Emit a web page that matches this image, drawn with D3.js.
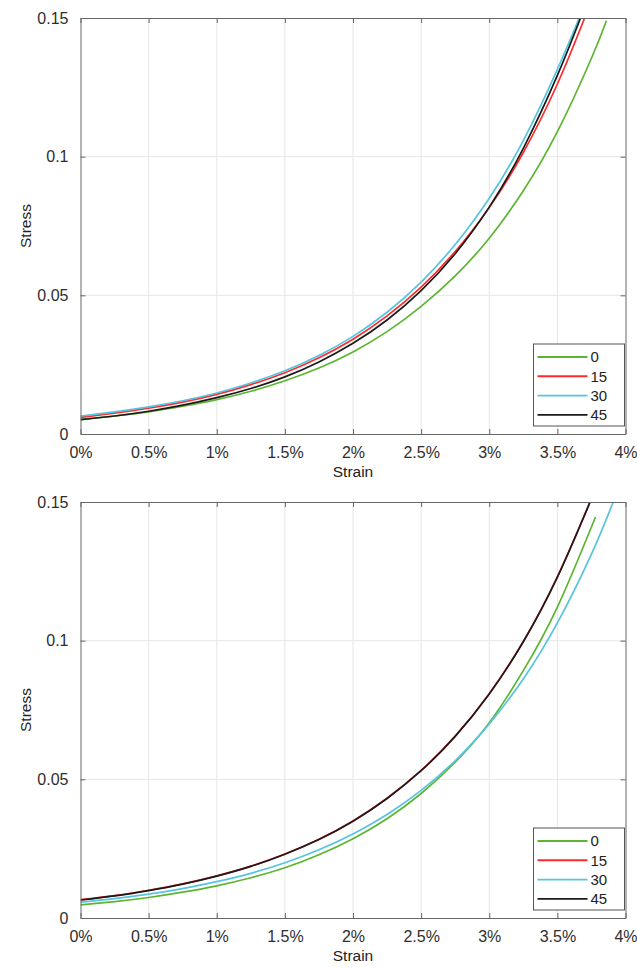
<!DOCTYPE html>
<html>
<head>
<meta charset="utf-8">
<script src="https://cdn.jsdelivr.net/npm/d3@7/dist/d3.min.js"></script>
<style>
body { margin: 0; background: #fff; }
svg { display: block; font-family: "Liberation Sans", Arial, sans-serif; }
</style>
</head>
<body>
<div id="chartArea"></div>
<script>
// Values (strain in %, stress in the plot's units)
const strainTicks = [0, 0.5, 1, 1.5, 2, 2.5, 3, 3.5, 4];
const stressTicks = [0, 0.05, 0.1, 0.15];
const seriesNames = ['0', '15', '30', '45'];

// upper panel
const topStrain0 = [0, 0.25, 0.5, 0.75, 1, 1.25, 1.5, 1.75, 2, 2.25, 2.5, 2.75, 3, 3.25, 3.5, 3.75, 3.86];
const topStress0 = [0.0052, 0.0065, 0.0080, 0.0100, 0.0124, 0.0154, 0.0192, 0.0238, 0.0296, 0.0369, 0.0460, 0.0570, 0.0706, 0.0877, 0.1090, 0.1355, 0.1490];
const topStrain15 = [0, 0.25, 0.5, 0.75, 1, 1.25, 1.5, 1.75, 2, 2.25, 2.5, 2.75, 3, 3.25, 3.5, 3.70];
const topStress15 = [0.0060, 0.0075, 0.0093, 0.0115, 0.0143, 0.0178, 0.0221, 0.0275, 0.0342, 0.0426, 0.0530, 0.0658, 0.0817, 0.1015, 0.1262, 0.1500];
const topStrain30 = [0, 0.25, 0.5, 0.75, 1, 1.25, 1.5, 1.75, 2, 2.25, 2.5, 2.75, 3, 3.25, 3.5, 3.66];
const topStress30 = [0.0065, 0.0080, 0.0098, 0.0120, 0.0148, 0.0184, 0.0228, 0.0283, 0.0352, 0.0439, 0.0548, 0.0683, 0.0850, 0.1058, 0.1315, 0.1500];
const topStrain45 = [0, 0.25, 0.5, 0.75, 1, 1.25, 1.5, 1.75, 2, 2.25, 2.5, 2.75, 3, 3.25, 3.5, 3.67];
const topStress45 = [0.0052, 0.0065, 0.0082, 0.0104, 0.0131, 0.0164, 0.0206, 0.0260, 0.0327, 0.0411, 0.0517, 0.0650, 0.0818, 0.1030, 0.1293, 0.1500];

// lower panel
const botStrain0 = [0, 0.25, 0.5, 0.75, 1, 1.25, 1.5, 1.75, 2, 2.25, 2.5, 2.75, 3, 3.25, 3.5, 3.78];
const botStress0 = [0.0047, 0.0059, 0.0074, 0.0093, 0.0116, 0.0145, 0.0181, 0.0228, 0.0286, 0.0358, 0.0449, 0.0562, 0.0704, 0.0892, 0.1121, 0.1446];
const botStrain15 = [0, 0.25, 0.5, 0.75, 1, 1.25, 1.5, 1.75, 2, 2.25, 2.5, 2.75, 3, 3.25, 3.5, 3.74];
const botStress15 = [0.0066, 0.0081, 0.0100, 0.0123, 0.0152, 0.0187, 0.0231, 0.0284, 0.0350, 0.0432, 0.0532, 0.0656, 0.0809, 0.0997, 0.1230, 0.1500];
const botStrain30 = [0, 0.25, 0.5, 0.75, 1, 1.25, 1.5, 1.75, 2, 2.25, 2.5, 2.75, 3, 3.25, 3.5, 3.75, 3.91];
const botStress30 = [0.0057, 0.0070, 0.0086, 0.0106, 0.0131, 0.0161, 0.0199, 0.0246, 0.0303, 0.0373, 0.0460, 0.0567, 0.0700, 0.0862, 0.1064, 0.1312, 0.1500];
const botStrain45 = [0, 0.25, 0.5, 0.75, 1, 1.25, 1.5, 1.75, 2, 2.25, 2.5, 2.75, 3, 3.25, 3.5, 3.74];
const botStress45 = [0.0065, 0.0080, 0.0099, 0.0122, 0.0151, 0.0186, 0.0230, 0.0283, 0.0349, 0.0431, 0.0531, 0.0655, 0.0808, 0.0996, 0.1229, 0.1500];

const colors = ['#5cb530', '#ff2b2b', '#55c4e0', '#1a1a1a'];

function toPoints(xs, ys) {
    return xs.map((x, i) => ({ strain: x, stress: ys[i] }));
}

const panels = [
    {
        id: 'top', top: 18,
        series: [toPoints(topStrain0, topStress0), toPoints(topStrain15, topStress15),
                 toPoints(topStrain30, topStress30), toPoints(topStrain45, topStress45)]
    },
    {
        id: 'bot', top: 502,
        series: [toPoints(botStrain0, botStress0), toPoints(botStrain15, botStress15),
                 toPoints(botStrain30, botStress30), toPoints(botStrain45, botStress45)]
    }
];

let svg = d3.select('#chartArea')
    .append('svg')
    .attr('width', 637)
    .attr('height', 969);

let left = 80.5,
    width = 545,
    height = 416;

function drawPanel(panel) {
    let chart = svg.append('g')
        .attr('transform', 'translate(' + left + ',' + panel.top + ')');

    let xScale = d3.scaleLinear().domain([0, 4]).range([0, width]);
    let yScale = d3.scaleLinear().domain([0, 0.15]).range([height, 0]);

    // grid
    chart.append('g')
        .selectAll('line')
        .data(strainTicks.slice(1, -1))
        .enter().append('line')
        .attr('x1', d => xScale(d)).attr('x2', d => xScale(d))
        .attr('y1', 0).attr('y2', height)
        .attr('stroke', '#e6e6e6');
    chart.append('g')
        .selectAll('line')
        .data(stressTicks.slice(1, -1))
        .enter().append('line')
        .attr('x1', 0).attr('x2', width)
        .attr('y1', d => yScale(d)).attr('y2', d => yScale(d))
        .attr('stroke', '#e6e6e6');

    let clipId = 'clip-' + panel.id;
    chart.append('clipPath').attr('id', clipId)
        .append('rect').attr('width', width).attr('height', height);

    let line = d3.line()
        .x(d => xScale(d.strain))
        .y(d => yScale(d.stress))
        .curve(d3.curveNatural);

    chart.append('g')
        .attr('clip-path', 'url(#' + clipId + ')')
        .selectAll('path')
        .data(panel.series)
        .enter().append('path')
        .attr('d', d => line(d))
        .attr('fill', 'none')
        .attr('stroke', (d, i) => colors[i])
        .attr('stroke-width', 1.7);

    // axes with inward ticks, boxed like MATLAB
    let fmtX = d => d + '%';
    let fmtY = d => d3.format('~g')(d);

    chart.append('g')
        .attr('transform', 'translate(0,' + height + ')')
        .call(d3.axisBottom(xScale).tickValues(strainTicks).tickFormat(fmtX)
            .tickSizeInner(-5).tickSizeOuter(0).tickPadding(13));
    chart.append('g')
        .call(d3.axisLeft(yScale).tickValues(stressTicks).tickFormat(fmtY)
            .tickSizeInner(-5).tickSizeOuter(0).tickPadding(12));
    chart.append('g')
        .call(d3.axisTop(xScale).tickValues(strainTicks).tickFormat('')
            .tickSizeInner(-5).tickSizeOuter(0));
    chart.append('g')
        .attr('transform', 'translate(' + width + ',0)')
        .call(d3.axisRight(yScale).tickValues(stressTicks).tickFormat('')
            .tickSizeInner(-5).tickSizeOuter(0));

    chart.selectAll('.domain').attr('stroke', '#666');
    chart.selectAll('.tick line').attr('stroke', '#666');
    chart.selectAll('.tick text')
        .attr('fill', '#2e2e2e')
        .style('font-size', '16px');

    // axis titles
    chart.append('text')
        .attr('x', width / 2)
        .attr('y', height + 43)
        .attr('text-anchor', 'middle')
        .attr('fill', '#222')
        .style('font-size', '15.5px')
        .text('Strain');

    chart.append('text')
        .attr('transform', 'translate(' + (31 - left) + ',' + (height / 2) + ') rotate(-90)')
        .attr('text-anchor', 'middle')
        .attr('fill', '#222')
        .style('font-size', '15.5px')
        .text('Stress');

    // legend
    let lgW = 91, lgH = 82;
    let legend = chart.append('g')
        .attr('transform', 'translate(' + (width - 1 - lgW) + ',' + (height - 8 - lgH) + ')');
    legend.append('rect')
        .attr('width', lgW).attr('height', lgH)
        .attr('fill', '#fff').attr('stroke', '#555');
    let rows = legend.selectAll('g')
        .data(seriesNames)
        .enter().append('g')
        .attr('transform', (d, i) => 'translate(0,' + (13 + i * 19.3) + ')');
    rows.append('line')
        .attr('x1', 4).attr('x2', 54)
        .attr('stroke', (d, i) => colors[i])
        .attr('stroke-width', 1.9);
    rows.append('text')
        .attr('x', 57)
        .attr('dy', '0.35em')
        .attr('fill', '#222')
        .style('font-size', '15px')
        .text(d => d);
}

panels.forEach(drawPanel);
</script>
</body>
</html>
